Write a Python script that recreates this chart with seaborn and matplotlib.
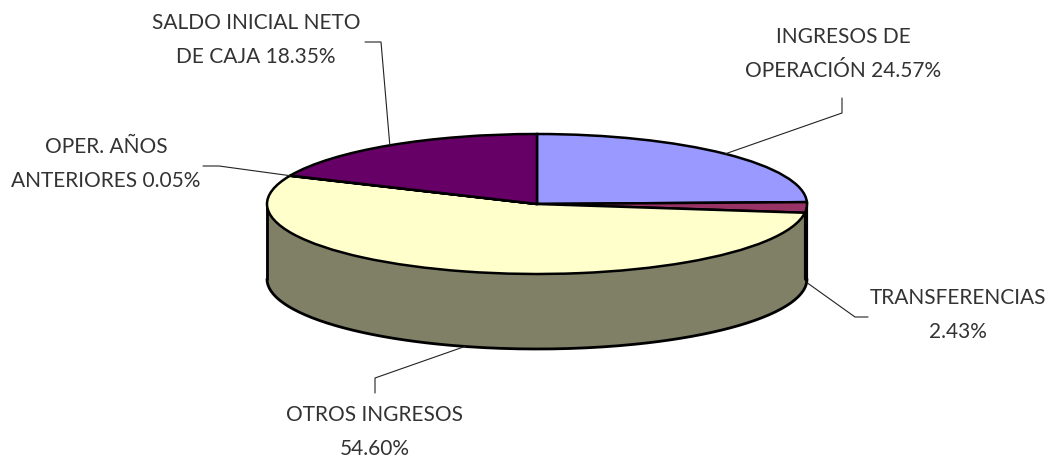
import numpy as np
import matplotlib
matplotlib.use('Agg')
import matplotlib.pyplot as plt
import seaborn as sns

names = ['INGRESOS DE\nOPERACIÓN', 'TRANSFERENCIAS\n', 'OTROS INGRESOS\n', 'OPER. AÑOS\nANTERIORES', 'SALDO INICIAL NETO\nDE CAJA']
values = [24.57, 2.43, 54.60, 0.05, 18.35]
top_colors = ['#9999FF', '#993366', '#FFFFCC', '#CCFFFF', '#660066']
side_colors = ['#4C4C7F', '#4C1933', '#808066', '#667F7F', '#330033']

# pie geometry in pixels of the 1048x461 picture
W, H = 1048, 461
CX, CY, RX, RY, DEPTH = 537, 204, 270, 70, 75

# label centre and leader elbows, in pixels (slice order)
label_xy = [(843, 54), (958, 315), (375, 432), (106, 164), (256, 40)]
elbows = [[(842, 113), (842, 98)], [(855, 317), (868, 317)], [(375, 378), (375, 393)],
          [(219, 166), (203, 166)], [(381, 42), (365, 42)]]
on_side = [False, True, True, False, False]

sns.set_style('white')
plt.rcParams['font.family'] = ['Lato', 'DejaVu Sans']

def px(x, y):
    return (x - CX) / RX, (CY - y) / RY

fig, ax = plt.subplots(figsize=(W / 100, H / 100), dpi=100)
fig.subplots_adjust(0, 0, 1, 1)

# the side of the cake, stacked thin pies from the bottom up
d = DEPTH / RY
for off in np.linspace(d, 0, DEPTH + 1):
    ax.pie(values, colors=side_colors, startangle=90, counterclock=False, center=(0, -off),
           frame=True, wedgeprops={'linewidth': 0.6, 'zorder': 1, 'edgecolor': None})
for w in ax.patches:
    w.set_edgecolor(w.get_facecolor())

t = np.linspace(np.pi, 2 * np.pi, 200)
ax.plot(np.cos(t), np.sin(t) - d, color='black', lw=2, zorder=2)
ax.plot([-1, -1], [0, -d], color='black', lw=2, zorder=2)
ax.plot([0.995, 0.995], [0, -d], color='black', lw=3, zorder=2)

ax.pie(values, colors=top_colors, startangle=90, counterclock=False, frame=True,
       wedgeprops={'linewidth': 1.8, 'edgecolor': 'black', 'zorder': 3})

ax.set_aspect('auto')
ax.set_xlim(-CX / RX, (W - CX) / RX)
ax.set_ylim((CY - H) / RY, CY / RY)
ax.axis('off')

# leaders start at the middle of each slice
pos = np.cumsum([0] + values[:-1]) + np.array(values) / 2
for i, v in enumerate(values):
    a = np.deg2rad(90 - pos[i] * 3.6)
    sx, sy = np.cos(a), np.sin(a)
    if on_side[i]:
        sy -= d
    ex = [px(*e) for e in elbows[i]]
    ax.plot([sx] + [e[0] for e in ex], [sy] + [e[1] for e in ex], color='#222222', lw=0.8, zorder=4)
    txt = f"{names[i]} {v:.2f}%".replace('\n ', '\n')
    lx, ly = px(*label_xy[i])
    ax.text(lx, ly, txt, ha='center', va='center', fontsize=15, color='#333333',
            linespacing=1.9, zorder=5)

fig.savefig('out.png', dpi=100)
